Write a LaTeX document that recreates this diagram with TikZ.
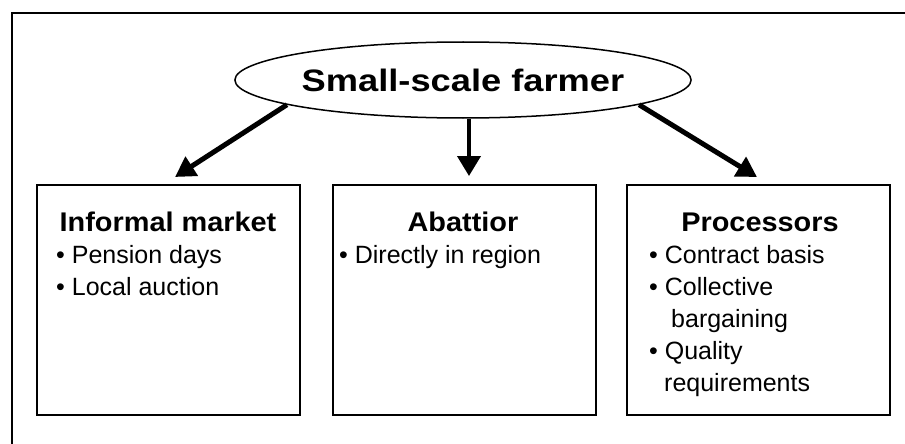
\documentclass[tikz,border=0pt]{standalone}
\usepackage{fontspec}
\setmainfont{Liberation Sans}
\newfontfamily\titlefont{Liberation Sans}[FakeStretch=1.17]
\newfontfamily\hdrfont{Liberation Sans}[FakeStretch=1.07]
\usetikzlibrary{shapes.geometric,arrows.meta}
\begin{document}
\begin{tikzpicture}[x=1pt,y=-1pt,
  box/.style={draw,line width=2pt,minimum width=263pt,minimum height=230pt,inner sep=0pt,anchor=north west},
  hdr/.style={anchor=base,inner sep=0pt,font=\hdrfont\bfseries\fontsize{27}{31}\selectfont},
  item/.style={anchor=base west,inner sep=0pt,font=\fontsize{25}{29}\selectfont},
  arr/.style={line width=5pt,-{Triangle[length=20pt,width=22pt]}},
  arrv/.style={line width=4pt,-{Triangle[length=20pt,width=23pt]}},
]
\useasboundingbox (0,0) rectangle (905,444);
% outer frame (cropped)
\draw[line width=2pt] (905,13) -- (12,13) -- (12,444);

% top ellipse
\node[draw,ellipse,line width=1.5pt,minimum width=432pt,minimum height=76pt,inner sep=0pt,
      font=\titlefont\bfseries\fontsize{31}{35}\selectfont] (farmer) at (463,80) {Small-scale farmer};

% boxes
\node[box] (b1) at (36,184) {};
\node[box] (b2) at (332,184) {};
\node[box] (b3) at (626,184) {};

% box 1 text
\node[hdr] (h1) at (168,231) {Informal market};
\node[item] (i11) at (56,263) {• Pension days};
\node[item] (i12) at (56,295) {• Local auction};

% box 2 text
\node[hdr] (h2) at (463,231) {Abattior};
\node[item] (i21) at (339,263) {• Directly in region};

% box 3 text
\node[hdr] (h3) at (760,231) {Processors};
\node[item] (i31) at (649,263) {• Contract basis};
\node[item] (i32) at (649,295) {• Collective};
\node[item] (i33) at (671,327) {bargaining};
\node[item] (i34) at (649,359) {• Quality};
\node[item] (i35) at (664,391) {requirements};

% arrows
\coordinate (t1) at (175,177);
\coordinate (t2) at (469,176);
\coordinate (t3) at (757,177);
\draw[arr] (farmer.188) -- (t1);
\draw[arrv] (farmer.south -| t2) -- (t2);
\draw[arr] (farmer.352) -- (t3);
\end{tikzpicture}
\end{document}
